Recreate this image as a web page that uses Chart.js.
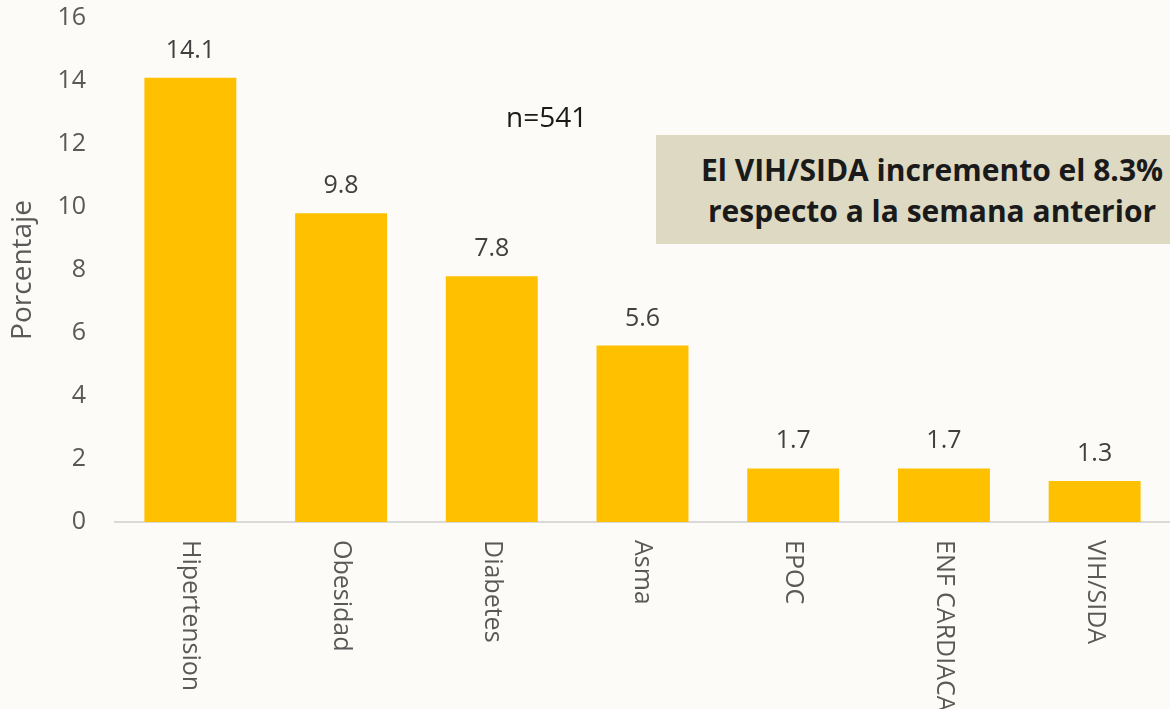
<!DOCTYPE html>
<html lang="es">
<head>
<meta charset="utf-8">
<script src="https://cdn.jsdelivr.net/npm/chart.js@4"></script>
<style>
  html, body { margin: 0; padding: 0; }
  body { width: 1170px; height: 709px; overflow: hidden; position: relative; background: #fdfbf7; font-family: "Open Sans", sans-serif; }
  #wrap { position: absolute; left: 0; top: 0; width: 1170px; height: 709px; }
  .note { position: absolute; left: 656px; top: 135px; width: 552px; height: 109px; background: #ddd9c3;
    font-weight: bold; font-size: 30px; line-height: 41px; color: #1a1a1a; text-align: center; padding-top: 14px; box-sizing: border-box; white-space: nowrap; }
  .n { position: absolute; left: 506px; top: 98px; font-size: 28px; line-height: 36px; color: #1a1a1a; }
</style>
</head>
<body>
<div id="wrap"><canvas id="chart" width="1170" height="709"></canvas></div>
<div class="n">n=541</div>
<div class="note">El VIH/SIDA incremento el 8.3%<br>respecto a la semana anterior</div>
<script>
const categories = ["Hipertension", "Obesidad", "Diabetes", "Asma", "EPOC", "ENF CARDIACA", "VIH/SIDA"];
const values = [14.1, 9.8, 7.8, 5.6, 1.7, 1.7, 1.3];
const yTicks = [0, 2, 4, 6, 8, 10, 12, 14, 16];

const labelColor = "#595959";
const fontFamily = "'Open Sans', sans-serif";

// value labels above the bars + vertical category labels (top to bottom)
const barLabels = {
  id: "barLabels",
  afterDatasetsDraw(chart) {
    const ctx = chart.ctx;
    const meta = chart.getDatasetMeta(0);
    const x = chart.scales.x;
    ctx.save();
    ctx.font = "25px " + fontFamily;
    ctx.textAlign = "center";
    ctx.textBaseline = "alphabetic";
    ctx.fillStyle = "#404040";
    meta.data.forEach((bar, i) => {
      ctx.fillText(values[i].toFixed(1), bar.x, bar.y - 20);
    });
    ctx.fillStyle = labelColor;
    categories.forEach((c, i) => {
      const px = x.getPixelForValue(i);
      ctx.save();
      ctx.translate(px, x.top + 18);
      ctx.rotate(Math.PI / 2);
      ctx.textAlign = "left";
      ctx.textBaseline = "middle";
      ctx.fillText(c, 0, 0);
      ctx.restore();
    });
    ctx.restore();
  }
};

new Chart(document.getElementById("chart"), {
  type: "bar",
  data: {
    labels: categories,
    datasets: [{
      data: values,
      backgroundColor: "#ffc000",
      categoryPercentage: 1,
      barPercentage: 0.61
    }]
  },
  options: {
    responsive: false,
    animation: false,
    layout: { padding: { top: 18, right: 0, bottom: 0, left: 0 } },
    plugins: { legend: { display: false }, tooltip: { enabled: false } },
    scales: {
      x: {
        grid: { display: false, drawTicks: false },
        border: { display: true, color: "#d9d9d9", width: 2 },
        ticks: { display: false },
        afterFit(scale) { scale.height = 187; scale.paddingLeft = 0; scale.paddingRight = 0; }
      },
      y: {
        min: 0,
        max: 16,
        afterBuildTicks(scale) { scale.ticks = yTicks.map(v => ({ value: v })); },
        grid: { display: false, drawTicks: false },
        border: { display: false },
        ticks: { color: labelColor, font: { size: 25, family: fontFamily }, padding: 29 },
        title: { display: true, text: "Porcentaje", color: labelColor, font: { size: 28, family: fontFamily }, padding: { top: 6, bottom: 0 } },
        afterFit(scale) { scale.width = 115; scale.paddingTop = 0; scale.paddingBottom = 0; }
      }
    }
  },
  plugins: [barLabels]
});
</script>
</body>
</html>
